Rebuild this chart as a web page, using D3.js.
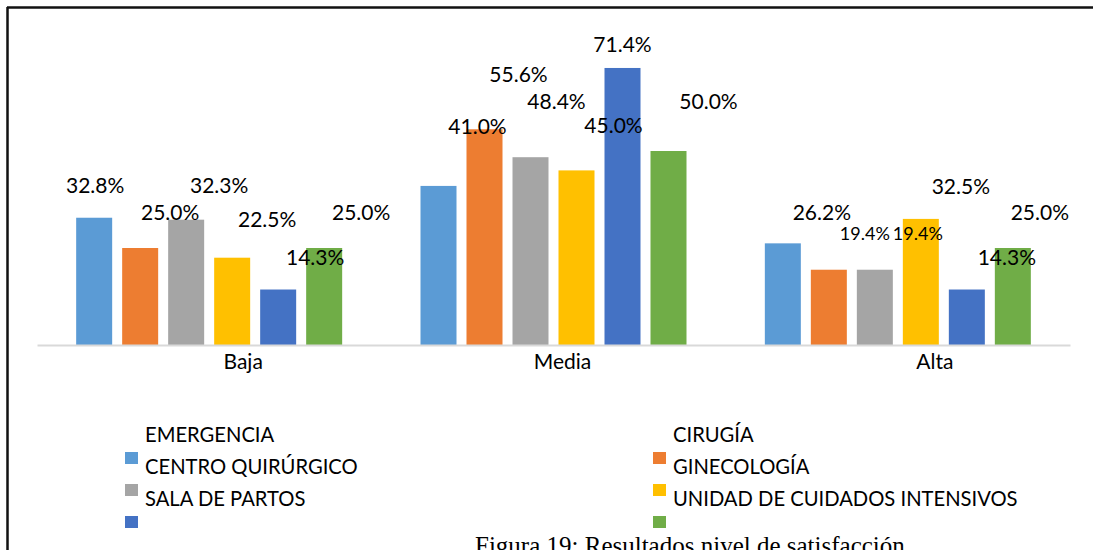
<!DOCTYPE html>
<html>
<head>
<meta charset="utf-8">
<script src="https://cdn.jsdelivr.net/npm/d3@7"></script>
<style>
  html, body { margin: 0; padding: 0; background: #fff; }
  svg { display: block; }
</style>
</head>
<body>
<svg id="chart" width="1093" height="550"></svg>
<script>
// ---- data ----
const categories = ["Baja", "Media", "Alta"];
const seriesNames = ["EMERGENCIA", "CIRUGÍA", "CENTRO QUIRÚRGICO", "GINECOLOGÍA", "SALA DE PARTOS", "UNIDAD DE CUIDADOS INTENSIVOS"];
const emergencia       = [32.8, 41.0, 26.2];
const cirugia          = [25.0, 55.6, 19.4];
const centroQuirurgico = [32.3, 48.4, 19.4];
const ginecologia      = [22.5, 45.0, 32.5];
const salaPartos       = [14.3, 71.4, 14.3];
const uci              = [25.0, 50.0, 25.0];
const caption = "Figura 19: Resultados nivel de satisfacción";

// ---- layout / style ----
const colors = ["#5B9BD5", "#ED7D31", "#A5A5A5", "#FFC000", "#4472C4", "#70AD47"];
// label nudges (dx from bar centre, dy of label centre from bar top), per category x series
const labelNudge = [
  [[1, -32], [30, -36], [33, -34], [35, -38], [37, -32], [37, -36]],
  [[39, -59], [34, -55], [26, -56], [37, -45], [0, -23], [40, -50]],
  [[39, -31], [36, -36], [43, -36], [40, -32], [40, -32], [27, -36]]
];
const labelSmall = [[0,0,0,0,0,0],[0,0,0,0,0,0],[0,1,1,0,0,0]];
const catLabelDx = [34, 9, 37];

const series = [emergencia, cirugia, centroQuirurgico, ginecologia, salaPartos, uci];
const FONT = "Lato, 'Open Sans', sans-serif";

const svg = d3.select("#chart");
svg.append("rect").attr("width", 1093).attr("height", 550).attr("fill", "#fff");

// frame lines (top & left)
svg.append("line").attr("x1", 7).attr("x2", 1093).attr("y1", 7.5).attr("y2", 7.5)
  .attr("stroke", "#111").attr("stroke-width", 2.5);
svg.append("line").attr("x1", 7.5).attr("x2", 7.5).attr("y1", 7).attr("y2", 550)
  .attr("stroke", "#111").attr("stroke-width", 2.5);

const x0 = d3.scaleBand().domain(categories).range([37, 1070]).padding(0);
const bw = x0.bandwidth();
const groupW = 266;
const x1 = d3.scaleBand().domain(d3.range(series.length))
  .range([(bw - groupW) / 2, (bw + groupW) / 2]).paddingInner(10 / 46).paddingOuter(0);
const y = d3.scaleLinear().domain([0, 80]).range([345, 34.6]);

const cells = [];
categories.forEach((c, ci) => {
  series.forEach((s, si) => cells.push({ c, ci, si, v: s[ci] }));
});

// bars
svg.append("g").selectAll("rect").data(cells).join("rect")
  .attr("x", d => x0(d.c) + x1(d.si))
  .attr("y", d => y(d.v))
  .attr("width", x1.bandwidth())
  .attr("height", d => y(0) - y(d.v))
  .attr("fill", d => colors[d.si]);

// axis
const axis = svg.append("g").attr("transform", `translate(0,${y(0)})`)
  .call(d3.axisBottom(x0).tickSize(0).tickPadding(9));
axis.select(".domain").attr("stroke", "#d9d9d9").attr("stroke-width", 2);
axis.selectAll(".tick text")
  .attr("font-family", FONT).attr("font-size", 21).attr("fill", "#000")
  .attr("dx", (d, i) => catLabelDx[i]);

// data labels
svg.append("g").selectAll("text").data(cells).join("text")
  .attr("x", d => x0(d.c) + x1(d.si) + x1.bandwidth() / 2 + labelNudge[d.ci][d.si][0])
  .attr("y", d => y(d.v) + labelNudge[d.ci][d.si][1] + (labelSmall[d.ci][d.si] ? 6.5 : 7.5))
  .attr("text-anchor", "middle")
  .attr("font-family", FONT)
  .attr("font-size", d => labelSmall[d.ci][d.si] ? 18 : 21)
  .attr("fill", "#000")
  .text(d => d3.format(".1f")(d.v) + "%");

// legend
const legX = [125, 653];
const legY0 = 442, legStep = 32;
const leg = svg.append("g").selectAll("g").data(seriesNames).join("g")
  .attr("transform", (d, i) => `translate(${legX[i % 2]},${legY0 + Math.floor(i / 2) * legStep})`);
leg.append("rect").attr("x", 0).attr("y", 10).attr("width", 13).attr("height", 12)
  .attr("fill", (d, i) => colors[i]);
leg.append("text").attr("x", 20).attr("y", 0)
  .attr("font-family", FONT).attr("font-size", 20.2).attr("fill", "#000")
  .text(d => d);

// caption
svg.append("text").attr("x", 475).attr("y", 554)
  .attr("font-family", "'Liberation Serif', 'Times New Roman', serif")
  .attr("font-size", 25).attr("fill", "#000")
  .text(caption);
</script>
</body>
</html>
